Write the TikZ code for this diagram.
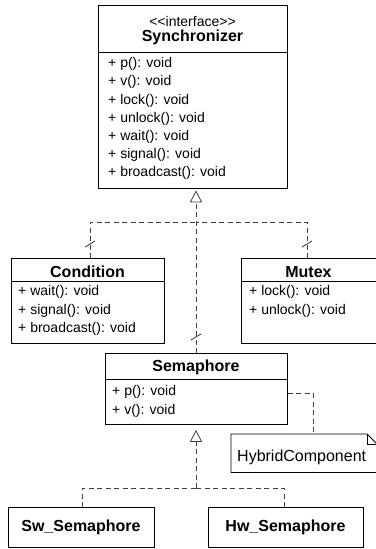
\documentclass[tikz,border=0pt]{standalone}
\usepackage{fontspec}
\setmainfont{Liberation Sans}
\usetikzlibrary{arrows.meta}
\begin{document}
\begin{tikzpicture}[x=1pt,y=-1pt,
  box/.style={draw=black,line width=0.8pt,inner sep=0pt,anchor=north west},
  title/.style={font=\fontsize{16}{18}\selectfont\bfseries,inner sep=0pt},
  meth/.style={font=\fontsize{14}{16}\selectfont,inner sep=0pt,anchor=west},
  stereo/.style={font=\fontsize{14}{16}\selectfont,inner sep=0pt},
  dep/.style={draw=black!75,line width=0.8pt,dash pattern=on 5pt off 3.5pt},
  real/.style={dep,-{Triangle[open,length=12pt,width=12pt,line width=0.8pt]}},
  tickmark/.style={draw=black!80,line width=0.8pt},
  notetext/.style={font=\fontsize{16}{18}\selectfont,inner sep=0pt,anchor=west}]
\useasboundingbox (0,0) rectangle (375,549);

% Synchronizer
\node[box,minimum width=189pt,minimum height=183pt] (sync) at (98,5) {};
\draw[line width=0.8pt] (sync.west |- 0,52) -- (sync.east |- 0,52);
\node[stereo] (syncst) at (192.5,21) {<{}<interface>{}>};
\node[title] (synct) at (192.5,37) {Synchronizer};
\node[meth] (s1) at (108,64) {+ p(): void};
\node[meth] (s2) at (108,82) {+ v(): void};
\node[meth] (s3) at (108,101) {+ lock(): void};
\node[meth] (s4) at (108,119) {+ unlock(): void};
\node[meth] (s5) at (108,137) {+ wait(): void};
\node[meth] (s6) at (108,155) {+ signal(): void};
\node[meth] (s7) at (108,173) {+ broadcast(): void};

% Condition
\node[box,minimum width=153pt,minimum height=85pt] (cond) at (11,258) {};
\draw[line width=0.8pt] (cond.west |- 0,281) -- (cond.east |- 0,281);
\node[title] (condt) at (87.5,272) {Condition};
\node[meth] (c1) at (18,292) {+ wait(): void};
\node[meth] (c2) at (18,311) {+ signal(): void};
\node[meth] (c3) at (18,329) {+ broadcast(): void};

% Mutex
\node[box,minimum width=138pt,minimum height=85pt] (mutex) at (241,258) {};
\draw[line width=0.8pt] (mutex.west |- 0,281) -- (mutex.east |- 0,281);
\node[title] (mutext) at (308.5,272) {Mutex};
\node[meth] (m1) at (249,292) {+ lock(): void};
\node[meth] (m2) at (249,311) {+ unlock(): void};

% Semaphore
\node[box,minimum width=182pt,minimum height=71pt] (sema) at (105,353) {};
\draw[line width=0.8pt] (sema.west |- 0,379) -- (sema.east |- 0,379);
\node[title] (semat) at (196,367) {Semaphore};
\node[meth] (p1) at (112,392) {+ p(): void};
\node[meth] (p2) at (112,411) {+ v(): void};

% Note
\node[inner sep=0pt,minimum width=149pt,minimum height=38pt,anchor=north west] (note) at (231,434) {};
\draw[line width=0.8pt] (note.north west) -- (367,434) -- (377,444) -- (note.east |- 0,444)
  -- (note.south east) -- (note.south west) -- cycle;
\draw[line width=0.6pt] (367,434) -- (367,444) -- (377,444);
\node[notetext] (notet) at (237,457) {HybridComponent};

% Sw / Hw
\node[box,minimum width=146pt,minimum height=40pt] (sw) at (8,507) {};
\node[title] (swt) at (81,527) {Sw\_Semaphore};
\node[box,minimum width=155pt,minimum height=40pt] (hw) at (208,507) {};
\node[title] (hwt) at (285.5,527) {Hw\_Semaphore};

% Upper realizations
\coordinate (j1) at (196,222);
\draw[dep] (cond.north -| 90,0) |- (j1);
\draw[dep] (mutex.north -| 307,0) |- (j1);
\draw[real,shorten >=1.5pt] (sema.north -| 196,0) -- (sync.south -| 196,0);
\draw[tickmark] (85,247) -- (95,241);
\draw[tickmark] (302,247) -- (312,241);
\draw[tickmark] (191,340) -- (201,334);

% Note link
\draw[dep] (sema.east |- 0,393) -| (note.north -| 313,0);

% Lower realizations
\coordinate (j2) at (196,488);
\draw[dep] (sw.north -| 82,0) |- (j2);
\draw[dep] (hw.north -| 284,0) |- (j2);
\draw[real,shorten >=5pt] (j2) -- (sema.south -| 196,0);
\end{tikzpicture}
\end{document}
